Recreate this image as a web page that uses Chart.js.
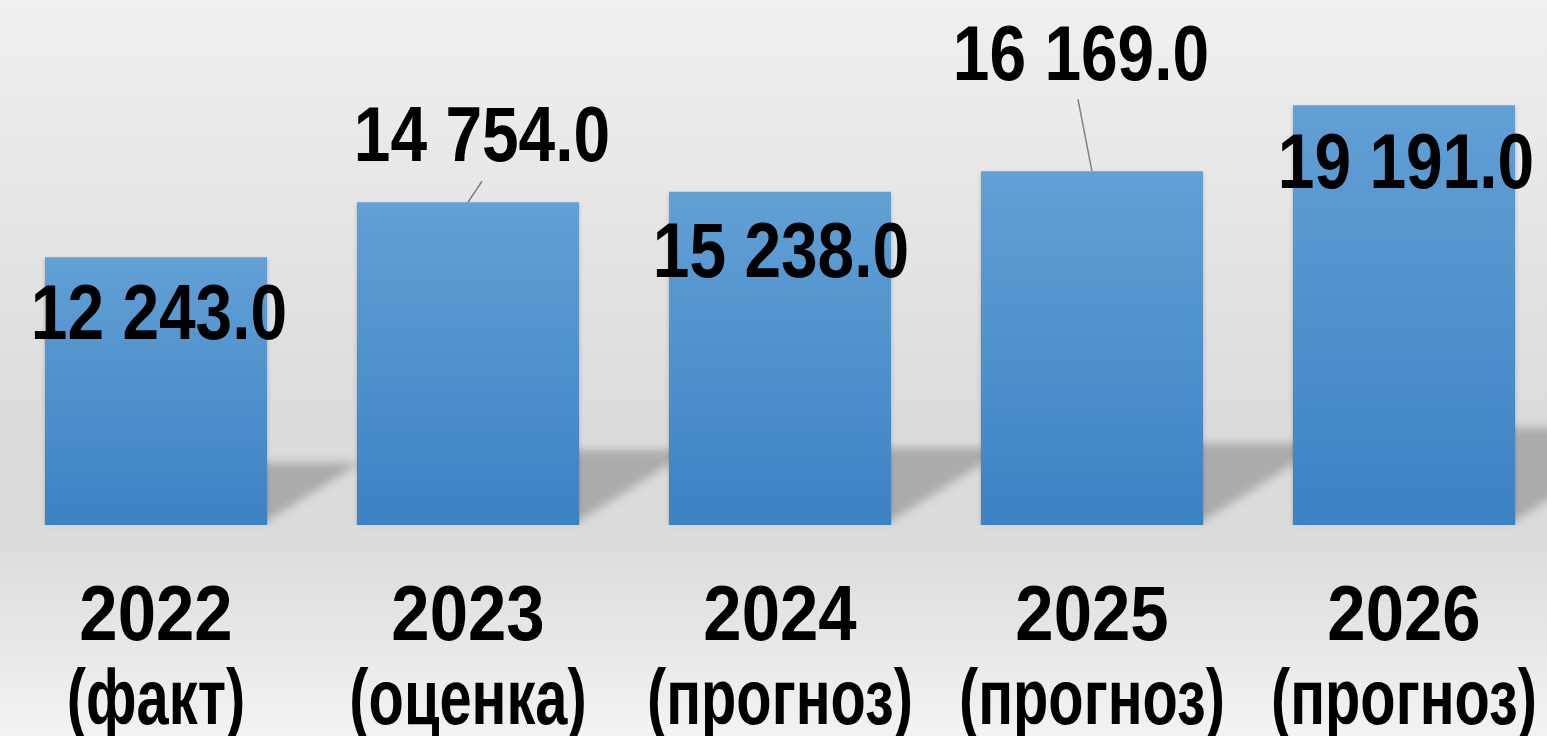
<!DOCTYPE html>
<html>
<head>
<meta charset="utf-8">
<script src="https://cdn.jsdelivr.net/npm/chart.js@4.4.1/dist/chart.umd.min.js"></script>
<style>
  html, body { margin: 0; padding: 0; overflow: hidden; width: 1547px; height: 736px; }
  body {
    background: linear-gradient(to bottom, #f0f0f0 0px, #dcdcdc 405px, #dcdcdc 545px, #f3f3f3 736px);
  }
  #wrap { position: absolute; left: 0; top: 0; width: 1560px; height: 736px; }
</style>
</head>
<body>
<div id="wrap"><canvas id="c" width="1560" height="736"></canvas></div>
<script>
// ---- data ----
const years = ["2022", "2023", "2024", "2025", "2026"];
const notes = ["(факт)", "(оценка)", "(прогноз)", "(прогноз)", "(прогноз)"];
const values = [12243, 14754, 15238, 16169, 19191];
const yMin = 0;
const yMax = 24000;

const categories = years.map((y, i) => [y, notes[i]]);

function fmt(v) {
  const s = v.toFixed(1);
  const [ip, dp] = s.split(".");
  return ip.replace(/\B(?=(\d{3})+(?!\d))/g, " ") + "." + dp;
}

const FONT = '"Liberation Sans", Arial, sans-serif';
const NARROW = 0.855;          // value labels squeeze -> Arial Narrow look
const TICK_NARROW_DIGITS = 0.895;
const TICK_NARROW_TEXT = 0.75;

// Squeeze x-axis tick labels horizontally (still drawn by the library's category axis)
(function () {
  const proto = Chart.CategoryScale.prototype;
  const orig = proto.drawLabels;
  proto.drawLabels = function (chartArea) {
    const ctx = this.ctx;
    const origFill = ctx.fillText;
    ctx.fillText = function (text, x, y, mw) {
      const sx = /^\d+$/.test(String(text)) ? TICK_NARROW_DIGITS : TICK_NARROW_TEXT;
      this.save();
      this.translate(x, y);
      this.scale(sx, 1);
      origFill.call(this, text, 0, 0, mw);
      this.restore();
    };
    try { orig.call(this, chartArea); } finally { ctx.fillText = origFill; }
  };
})();

// label placement relative to bar top-center (text centre x offset, baseline y offset, leader start)
const labelPlacement = [
  { dx: 3, dy: 82, leader: null },
  { dx: 14, dy: -41, leader: { dx: 14, dy: -21 } },
  { dx: 1, dy: 85, leader: null },
  { dx: -11, dy: -91, leader: { dx: -14, dy: -72 } },
  { dx: 2, dy: 83, leader: null }
];

const floorShadow = {
  id: 'floorShadow',
  beforeDatasetsDraw(chart) {
    const ctx = chart.ctx;
    const meta = chart.getDatasetMeta(0);
    ctx.save();
    ctx.filter = 'blur(5px)';
    ctx.fillStyle = 'rgba(140,140,140,0.62)';
    meta.data.forEach(bar => {
      const left = bar.x - bar.width / 2;
      const right = bar.x + bar.width / 2;
      const base = bar.base;
      const h = base - bar.y;
      const sh = 0.232 * h;
      const s = 0.35 * h;
      ctx.beginPath();
      ctx.moveTo(left, base - 4);
      ctx.lineTo(right, base - 4);
      ctx.lineTo(right + s, base - sh);
      ctx.lineTo(left + s, base - sh);
      ctx.closePath();
      ctx.fill();
    });
    ctx.restore();
    ctx.save();
    ctx.shadowColor = 'rgba(0,0,0,0.22)';
    ctx.shadowBlur = 4;
    ctx.shadowOffsetY = 2;
  },
  afterDatasetsDraw(chart) {
    chart.ctx.restore();
  }
};

const valueLabels = {
  id: 'valueLabels',
  afterDatasetsDraw(chart) {
    const ctx = chart.ctx;
    const meta = chart.getDatasetMeta(0);
    meta.data.forEach((bar, i) => {
      const p = labelPlacement[i];
      ctx.save();
      if (p.leader) {
        ctx.strokeStyle = '#808080';
        ctx.lineWidth = 1.5;
        ctx.beginPath();
        ctx.moveTo(bar.x + p.leader.dx, bar.y + p.leader.dy);
        ctx.lineTo(bar.x, bar.y);
        ctx.stroke();
      }
      ctx.font = 'bold 77px ' + FONT;
      ctx.fillStyle = '#000';
      ctx.textAlign = 'center';
      ctx.textBaseline = 'alphabetic';
      ctx.translate(bar.x + p.dx, bar.y + p.dy);
      ctx.scale(NARROW, 1);
      ctx.fillText(fmt(values[i]), 0, 0);
      ctx.restore();
    });
  }
};

new Chart(document.getElementById('c'), {
  type: 'bar',
  data: {
    labels: categories,
    datasets: [{
      data: values,
      backgroundColor(ctx) {
        const chart = ctx.chart;
        const area = chart.chartArea;
        if (!area) return '#4a8cc9';
        const yScale = chart.scales.y;
        const top = yScale.getPixelForValue(values[ctx.dataIndex]);
        const bottom = yScale.getPixelForValue(0);
        const g = chart.ctx.createLinearGradient(0, top, 0, bottom);
        g.addColorStop(0, '#62a0d5');
        g.addColorStop(1, '#3b82c4');
        return g;
      },
      borderWidth: 0,
      barPercentage: 0.7115,
      categoryPercentage: 1.0
    }]
  },
  options: {
    responsive: false,
    animation: false,
    events: [],
    layout: { padding: 0 },
    plugins: {
      legend: { display: false },
      tooltip: { enabled: false },
      title: { display: false }
    },
    scales: {
      x: {
        grid: { display: false, drawTicks: false },
        border: { display: false },
        ticks: {
          color: '#000',
          padding: 51,
          maxRotation: 0,
          minRotation: 0,
          autoSkip: false,
          font: { family: FONT, size: 77, weight: 'bold', lineHeight: 1.1 }
        },
        afterFit(scale) {
          scale.height = 211;
          scale.paddingLeft = 0;
          scale.paddingRight = 0;
        }
      },
      y: {
        display: false,
        min: yMin,
        max: yMax
      }
    }
  },
  plugins: [floorShadow, valueLabels]
});
</script>
</body>
</html>
